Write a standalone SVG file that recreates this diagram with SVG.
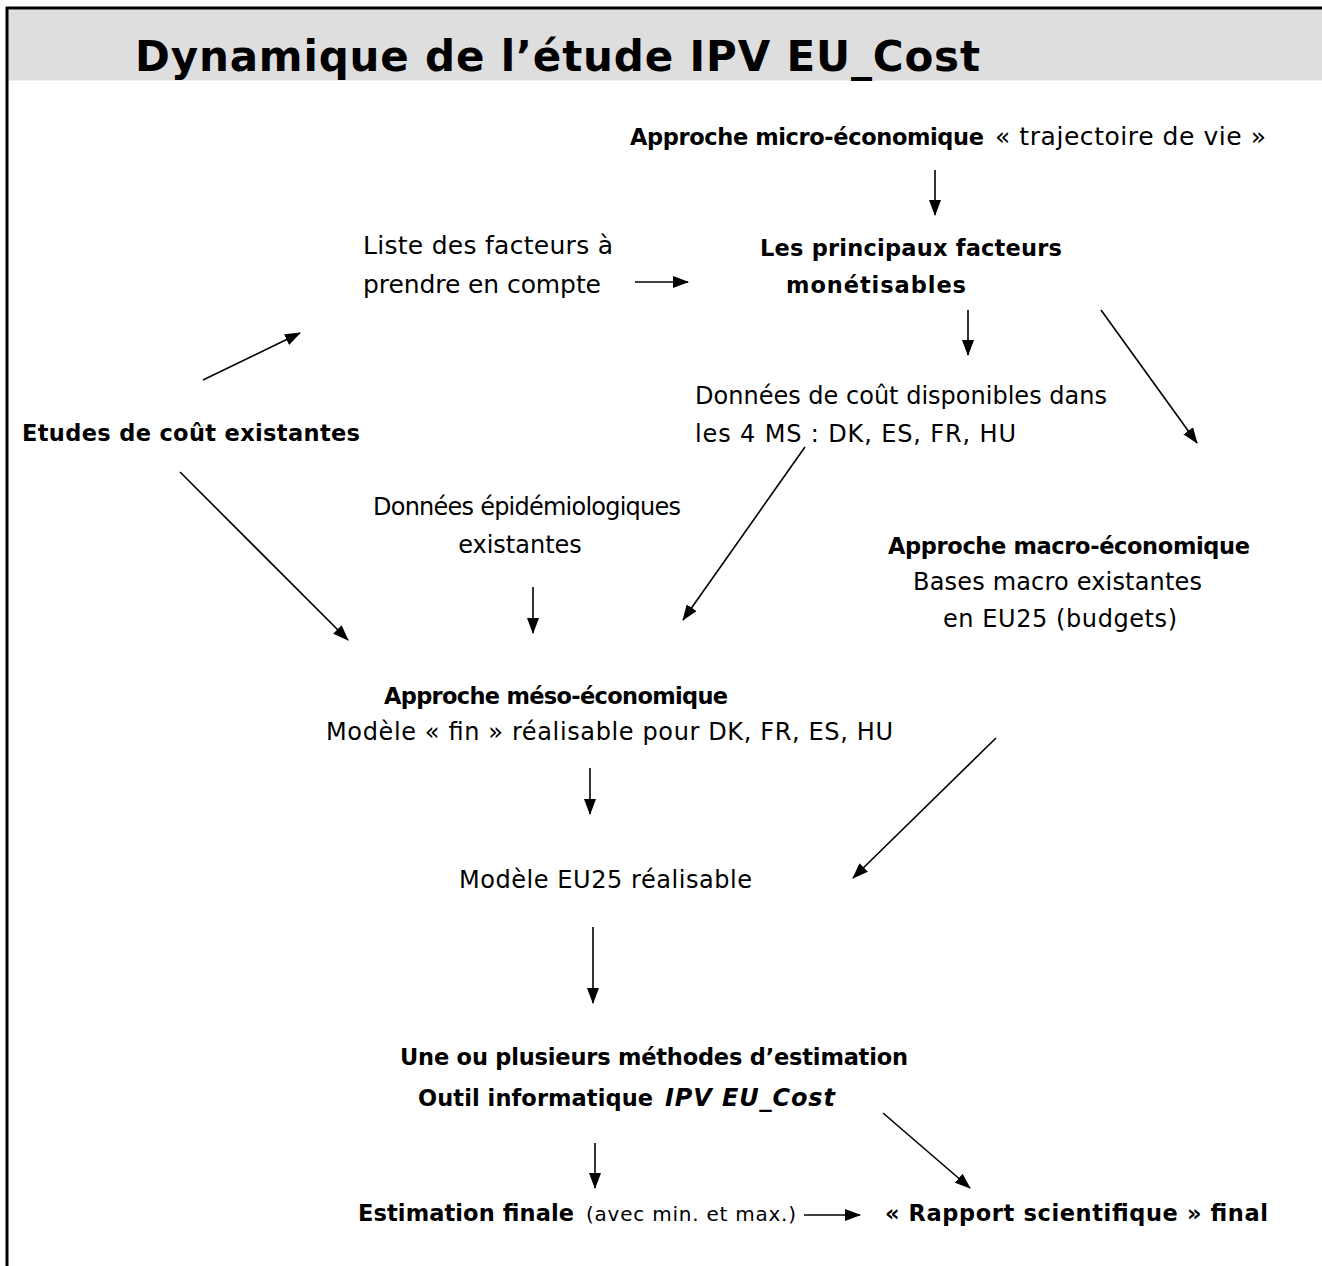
<svg xmlns="http://www.w3.org/2000/svg" width="1322" height="1266" viewBox="0 0 1322 1266">
<style>
text{font-family:"DejaVu Sans","Liberation Sans",sans-serif;fill:#000;font-size:24px}
.b{font-weight:bold;font-size:22.5px}
.i{font-style:italic;font-size:24px}
.t{font-size:42px;font-weight:bold}
.s{font-size:20px}
.m{text-anchor:middle}
.l{font-size:25px}
.c line{stroke:#000;stroke-width:1.6;marker-end:url(#ah)}
</style>
<defs>
<marker id="ah" markerUnits="userSpaceOnUse" markerWidth="16" markerHeight="12" refX="15" refY="6" orient="auto">
<path d="M0,0 L16,6 L0,12 Z" fill="#000"/>
</marker>
</defs>
<rect x="8" y="9.5" width="1314" height="71" fill="#dedede"/>
<line x1="6" y1="8" x2="1322" y2="8" stroke="#000" stroke-width="3"/>
<line x1="7" y1="7" x2="7" y2="1266" stroke="#000" stroke-width="3"/>
<g id="title"><text class="t" x="135" y="71" textLength="845">Dynamique de l’étude IPV EU_Cost</text></g>
<g id="micro"><text class="b" x="630" y="145" textLength="354">Approche micro-économique</text><text class="l" x="995" y="145" textLength="271">« trajectoire de vie »</text></g>
<g id="facteurs"><text class="b" x="760" y="256" textLength="302">Les principaux facteurs</text><text class="b" x="786" y="293" textLength="180">monétisables</text></g>
<g id="liste"><text class="l" x="363" y="254" textLength="250">Liste des facteurs à</text><text class="l" x="363" y="293" textLength="238">prendre en compte</text></g>
<g id="donnees-cout"><text x="695" y="404" textLength="412">Données de coût disponibles dans</text><text x="695" y="442" textLength="321">les 4 MS : DK, ES, FR, HU</text></g>
<g id="etudes"><text class="b" x="22" y="441" textLength="338">Etudes de coût existantes</text></g>
<g id="epidemio"><text x="373" y="515" textLength="308">Données épidémiologiques</text><text class="m" x="520" y="553">existantes</text></g>
<g id="macro"><text class="b" x="888" y="554" textLength="362">Approche macro-économique</text><text x="913" y="590" textLength="289">Bases macro existantes</text><text x="943" y="627" textLength="234">en EU25 (budgets)</text></g>
<g id="meso"><text class="b" x="384" y="704" textLength="344">Approche méso-économique</text><text x="326" y="740" textLength="567">Modèle « fin » réalisable pour DK, FR, ES, HU</text></g>
<g id="eu25"><text x="459" y="888" textLength="293">Modèle EU25 réalisable</text></g>
<g id="methodes"><text class="b" x="400" y="1065" textLength="508">Une ou plusieurs méthodes d’estimation</text><text class="b" x="418" y="1106" textLength="235">Outil informatique</text><text class="b i" x="665" y="1106" textLength="170">IPV EU_Cost</text></g>
<g id="estimation"><text class="b" x="358" y="1221" textLength="216">Estimation finale</text><text class="s" x="586" y="1221" textLength="210">(avec min. et max.)</text></g>
<g id="rapport"><text class="b" x="885" y="1221" textLength="383">« Rapport scientifique » final</text></g>
<g id="connectors" class="c">
<line x1="935" y1="170" x2="935" y2="215"/>
<line x1="635" y1="282" x2="688" y2="282"/>
<line x1="203" y1="380" x2="300" y2="333"/>
<line x1="968" y1="310" x2="968" y2="355"/>
<line x1="1101" y1="310" x2="1197" y2="443"/>
<line x1="180" y1="472" x2="348" y2="640"/>
<line x1="805" y1="447" x2="683" y2="620"/>
<line x1="533" y1="587" x2="533" y2="633"/>
<line x1="590" y1="768" x2="590" y2="814"/>
<line x1="996" y1="738" x2="853" y2="878"/>
<line x1="593" y1="927" x2="593" y2="1003"/>
<line x1="595" y1="1143" x2="595" y2="1188"/>
<line x1="883" y1="1113" x2="970" y2="1188"/>
<line x1="804" y1="1215" x2="860" y2="1215"/>
</g>
</svg>
